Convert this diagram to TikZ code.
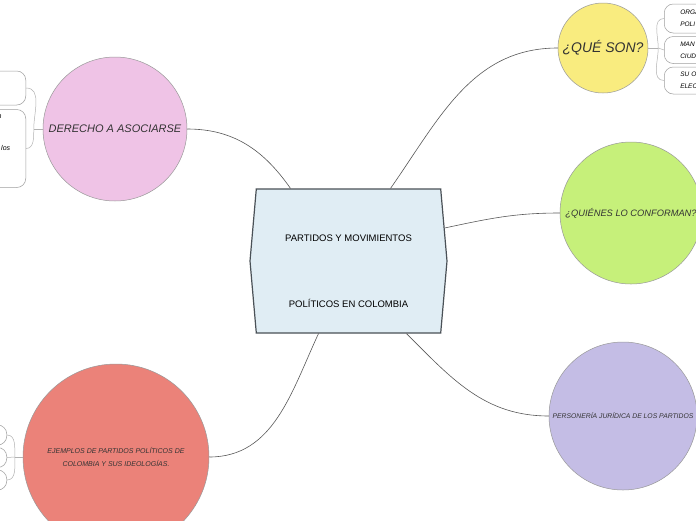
\documentclass[tikz,border=0pt]{standalone}
\usepackage{fontspec}
\setmainfont{Liberation Sans}
\usepackage{tikz}
\usetikzlibrary{positioning,shapes.symbols}
\usepackage{xcolor}

\definecolor{celeste}{HTML}{E0EDF4}
\definecolor{borde}{HTML}{4A5157}
\definecolor{rosa}{HTML}{EFC3E6}
\definecolor{amarillo}{HTML}{F9EC7F}
\definecolor{verde}{HTML}{C6F07A}
\definecolor{lila}{HTML}{C4BDE5}
\definecolor{salmon}{HTML}{EB8279}

\begin{document}
\begin{tikzpicture}[
            x=1pt, y=-1pt,
            burbuja/.style={circle, draw=gray!80, line width=0.5pt, inner sep=0pt, align=center, text=black!80},
            hoja/.style={rectangle, draw=gray!75, rounded corners=9pt, fill=white, line width=0.5pt, inner sep=0pt},
            conector/.style={draw=black!65, line width=0.6pt},
            rama/.style={draw=gray!60, line width=0.5pt}
        ]
            % --- FONDO ---
            \useasboundingbox[fill=white] (0,0) rectangle (696,520);

            % --- NODO CENTRAL ---
            \node[signal, signal to=west and east, signal pointer angle=170, draw=borde, fill=celeste, line width=1.2pt, minimum width=197pt, minimum height=144pt, inner sep=0pt] (centro) at (348.5,261) {};
            \node[font=\fontsize{9.5}{66}\selectfont, align=center] (titulo) at ([yshift=-10]centro.center) {PARTIDOS Y MOVIMIENTOS\\POLÍTICOS EN COLOMBIA};

            % --- BURBUJAS ---
            \node[burbuja, fill=rosa, minimum size=144pt, font=\itshape\fontsize{11}{13}\selectfont] (derecho) at (115,129) {DERECHO A ASOCIARSE};
            \node[burbuja, fill=amarillo, minimum size=90pt, font=\itshape\fontsize{14}{16}\selectfont] (queSon) at (603,48) {¿QUÉ SON?};
            \node[burbuja, fill=verde, minimum size=142pt, font=\itshape\fontsize{9.3}{11}\selectfont] (quienes) at (631,213) {¿QUIÉNES LO CONFORMAN?};
            \node[burbuja, fill=lila, minimum size=148pt, font=\itshape\fontsize{6.8}{8}\selectfont] (personeria) at (623,416) {PERSONERÍA JURÍDICA DE LOS PARTIDOS};
            \node[burbuja, fill=salmon, minimum size=186pt, font=\itshape\fontsize{7}{13}\selectfont] (ejemplos) at (116,457) {EJEMPLOS DE PARTIDOS POLÍTICOS DE\\COLOMBIA Y SUS IDEOLOGÍAS.};

            % --- CONECTORES ---
            \draw[conector] ([xshift=-58]centro.north) to[out=125, in=0] (derecho.east);
            \draw[conector] ([xshift=42]centro.north) to[out=55, in=180] (queSon.west);
            \draw[conector] ([xshift=-3, yshift=33]centro.east) to[out=12, in=180] (quienes.west);
            \draw[conector] ([xshift=58]centro.south) to[out=-45, in=180] (personeria.west);
            \draw[conector] ([xshift=-30]centro.south) to[out=-115, in=0] (ejemplos.east);

            % --- HOJAS (Derecho a asociarse) ---
            \coordinate (nudoDerecho) at ([xshift=-9]derecho.west);
            \node[hoja, minimum width=70pt, minimum height=34pt, anchor=east] (derecho1) at (26,88) {};
            \node[hoja, minimum width=70pt, minimum height=78pt, below=4pt of derecho1] (derecho2) {};
            \node[font=\itshape\fontsize{7}{8}\selectfont, anchor=base west, inner sep=0pt] (textoDer1) at (-2.5,118) {n};
            \node[font=\itshape\fontsize{7}{8}\selectfont, anchor=base west, inner sep=0pt] (textoDer2) at (1,150) {los};
            \draw[rama] (derecho.west) -- (nudoDerecho);
            \draw[rama] (nudoDerecho) to[out=90, in=0] (derecho1.east);
            \draw[rama] (nudoDerecho) to[out=-90, in=0] (derecho2.east);

            % --- HOJAS (Qué son) ---
            \coordinate (nudoQue) at ([xshift=10]queSon.east);
            \node[hoja, minimum height=29pt, text width=48pt, inner xsep=16pt, align=left, anchor=west, font=\itshape\fontsize{6.5}{12}\selectfont] (que1) at (664,18.5) {ORGA\\POLI};
            \node[hoja, minimum height=27pt, text width=48pt, inner xsep=16pt, align=left, font=\itshape\fontsize{6.5}{12}\selectfont, below=3pt of que1] (que2) {MAN\\CIUD};
            \node[hoja, minimum height=27pt, text width=48pt, inner xsep=16pt, align=left, font=\itshape\fontsize{6.5}{12}\selectfont, below=3pt of que2] (que3) {SU O\\ELEC};
            \draw[rama] (queSon.east) -- (nudoQue);
            \draw[rama] (nudoQue) to[out=90, in=180] (que1.west);
            \draw[rama] (nudoQue) -- (que2.west);
            \draw[rama] (nudoQue) to[out=-90, in=180] (que3.west);

            % --- HOJAS (Ejemplos) ---
            \coordinate (nudoEjemplos) at ([xshift=-8]ejemplos.west);
            \node[hoja, minimum width=30pt, minimum height=20pt, anchor=east] (ejemplo1) at (7,435) {};
            \node[hoja, minimum width=30pt, minimum height=20pt, below=2pt of ejemplo1] (ejemplo2) {};
            \node[hoja, minimum width=30pt, minimum height=20pt, below=2pt of ejemplo2] (ejemplo3) {};
            \draw[rama] (ejemplos.west) -- (nudoEjemplos);
            \draw[rama] (nudoEjemplos) to[out=90, in=0] (ejemplo1.east);
            \draw[rama] (nudoEjemplos) -- (ejemplo2.east);
            \draw[rama] (nudoEjemplos) to[out=-90, in=0] (ejemplo3.east);

        \end{tikzpicture}
\end{document}
